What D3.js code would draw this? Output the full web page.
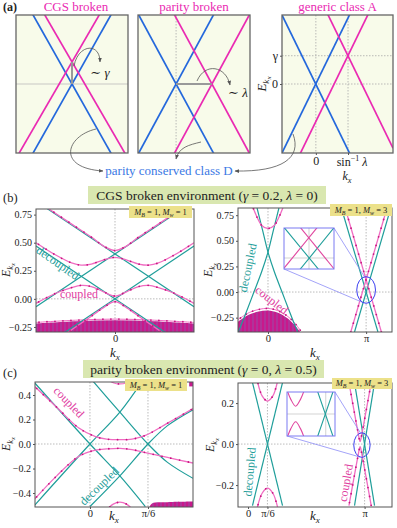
<!DOCTYPE html>
<html>
<head>
<meta charset="utf-8">
<script src="https://cdn.jsdelivr.net/npm/d3@7"></script>
<style>
  body { margin: 0; background: #fff; }
  svg { display: block; }
  svg text { font-family: "Liberation Serif", "DejaVu Serif", serif; }
</style>
</head>
<body>
<svg id="fig" width="397" height="528" font-family="Liberation Serif, DejaVu Serif, serif"></svg>
<script>
// ---------- data ----------
// (a) schematic spectra, kx and E in arbitrary units [-1,1]
const aTitles = ["CGS broken", "parity broken", "generic class A"];
const aCgsBlue = [[[-1, -1.44], [1, 1.44]], [[-1, 1.44], [1, -1.44]]];
const aCgsPink = [[[-1, -1.08], [1, 1.72]], [[-1, 1.72], [1, -1.08]]];
const aCgsGap = [[0, 0], [0, 0.32]];
const aParBlue = [[[-1, -1.02], [1, 1.98]], [[-1, 1.02], [1, -1.98]]];
const aParPink = [[[-1, -1.98], [1, 1.02]], [[-1, 1.98], [1, -1.02]]];
const aParGap = [[-0.32, 0], [0.32, 0]];
const aGenBlue = [[[-1, -1.0], [1, 2.29]], [[-1, 1.0], [1, -2.29]]];
const aGenPink = [[[-1, -1.55], [1, 1.75]], [[-1, 2.37], [1, -0.93]]];
const aGenTicksK = [-0.39, 0.19];
const aGenTicksE = [0, 0.41];

// (b) CGS broken environment
const bLeftTeal = [
  [[-1, 0.87], [1, -0.07]], [[-1, -0.07], [1, 0.87]],
  [[-1, 0.47], [1, -0.47]], [[-1, -0.47], [1, 0.47]]
];
const bLeftPink = [
  [[-0.9, 0.83], [-0.6, 0.69], [-0.3, 0.55], [-0.12, 0.46], [0, 0.43], [0.12, 0.46], [0.3, 0.55], [0.6, 0.69], [0.9, 0.83]],
  [[-1, 0.5], [-0.75, 0.39], [-0.55, 0.32], [-0.43, 0.30], [-0.3, 0.31], [-0.15, 0.345], [0, 0.37], [0.15, 0.345], [0.3, 0.31], [0.43, 0.30], [0.55, 0.32], [0.75, 0.39], [1, 0.5]],
  [[-1, -0.04], [-0.75, 0.05], [-0.55, 0.1], [-0.43, 0.12], [-0.3, 0.11], [-0.15, 0.065], [0, 0.025], [0.15, 0.065], [0.3, 0.11], [0.43, 0.12], [0.55, 0.1], [0.75, 0.05], [1, -0.04]],
  [[-0.6, -0.3], [-0.35, -0.18], [-0.15, -0.08], [0, -0.025], [0.15, -0.08], [0.35, -0.18], [0.6, -0.3]]
];
const bLeftSea = [[-1, -0.22], [-0.5, -0.2], [0, -0.19], [0.5, -0.2], [1, -0.22]];
const bTicksE = [-0.25, 0, 0.25, 0.5, 0.75];

const bRightTeal = [
  [[-0.35, 0.82], [-0.17, 0.6], [0, 0.39], [0.2, 0.2], [0.45, 0], [0.7, -0.2], [0.95, -0.39]],
  [[0.35, 0.82], [0.17, 0.6], [0, 0.39], [-0.2, 0.2], [-0.45, 0], [-0.7, -0.2], [-0.95, -0.39]],
  [[2.35, 0.82], [3.52, -0.39]], [[3.93, 0.82], [2.77, -0.39]]
];
const bRightPink = [
  [[-0.5, 0.84], [-0.35, 0.73], [-0.2, 0.65], [0, 0.62], [0.2, 0.65], [0.35, 0.73], [0.5, 0.84]],
  [[2.47, 0.82], [3.63, -0.39]], [[3.81, 0.82], [2.65, -0.39]]
];
const bRightSea = [[-0.96, -0.29], [-0.6, -0.22], [-0.3, -0.19], [0, -0.18], [0.3, -0.2], [0.6, -0.25], [0.85, -0.32], [1.05, -0.4]];
const bRightTicksK = [0, Math.PI];
const bRightCircle = { k: Math.PI, e: 0.02, rk: 0.30, re: 0.13 };
const bInsetK = [2.965, 3.318];
const bInsetE = [-0.066, 0.18];

// (c) parity broken environment
const cLeftTeal = [
  [[-0.5, -0.5], [0, 0], [0.27, 0.26], [0.47, 0.51]],
  [[-0.5, 0.5], [0, 0], [0.27, -0.26], [0.5, -0.51]],
  [[0.0, -0.51], [0.27, -0.26], [0.5236, 0], [0.7, 0.15], [0.93, 0.28]],
  [[0.03, 0.51], [0.27, 0.26], [0.5236, 0], [0.7, -0.15], [0.93, -0.28]]
];
const cLeftPink = [
  [[-0.5, 0.47], [-0.3, 0.3], [-0.1, 0.13], [0.05, 0.06], [0.15, 0.04], [0.27, 0.035], [0.38, 0.04], [0.5, 0.07], [0.7, 0.17], [0.93, 0.29]],
  [[-0.5, -0.45], [-0.3, -0.26], [-0.1, -0.1], [0.05, -0.05], [0.15, -0.04], [0.27, -0.035], [0.38, -0.045], [0.5, -0.07], [0.7, -0.11], [0.93, -0.155]],
  [[0.16, 0.53], [0.21, 0.5], [0.27, 0.49], [0.33, 0.5], [0.38, 0.53]],
  [[0.16, -0.53], [0.21, -0.49], [0.27, -0.475], [0.33, -0.49], [0.38, -0.53]]
];
const cLeftSeaLow = [[0.53, -0.53], [0.56, -0.485], [0.7, -0.475], [0.93, -0.47]];
const cLeftSeaHigh = [[0.895, 0.47], [0.93, 0.47]];
const cLeftTicksE = [-0.4, -0.2, 0, 0.2, 0.4];
const cLeftTicksK = [0, Math.PI / 6];

const cRightTeal = [
  [[0.12, 0.3], [0.93, -0.3]], [[0.93, 0.3], [0.12, -0.3]],
  [[2.87, 0.3], [3.41, -0.3]], [[3.41, 0.3], [2.87, -0.3]]
];
const cRightPink = [
  [[0.25, 0.31], [0.38, 0.235], [0.5236, 0.21], [0.67, 0.235], [0.8, 0.31]],
  [[0.25, -0.31], [0.38, -0.24], [0.5236, -0.215], [0.67, -0.24], [0.8, -0.31]],
  [[2.72, 0.3], [2.92, 0.1], [2.98, 0.042], [3.0, 0.023], [3.02, 0.012], [3.04, 0.023], [3.06, 0.042], [3.12, 0.1], [3.32, 0.3]],
  [[2.72, -0.3], [2.92, -0.1], [2.98, -0.042], [3.0, -0.023], [3.02, -0.012], [3.04, -0.023], [3.06, -0.042], [3.12, -0.1], [3.32, -0.3]]
];
const cRightTicksE = [-0.2, 0, 0.2];
const cRightTicksK = [0, Math.PI / 6, Math.PI];
const cRightCircle = { k: 3.07, e: -0.005, rk: 0.22, re: 0.06 };
const cInsetK = [2.985, 3.179];
const cInsetE = [-0.034, 0.034];

// ---------- styles ----------
const TEAL = "#1f9e9a", PINK = "#f06cc2", PINKDOT = "#c8157f";
const BLUE = "#2468dc", MAG = "#ea2ab2", GRID = "#aaa";
const SERIF = "Liberation Serif, DejaVu Serif, serif";

const svg = d3.select("#fig");
const defs = svg.append("defs");
let clipN = 0;

const hatch = defs.append("pattern").attr("id", "hatch")
  .attr("patternUnits", "userSpaceOnUse").attr("width", 4).attr("height", 4);
hatch.append("rect").attr("width", 4).attr("height", 4).attr("fill", "#c8198c");
hatch.append("line").attr("x1", 1).attr("x2", 1).attr("y1", 0).attr("y2", 4)
  .attr("stroke", "#9a4aa6").attr("stroke-width", 1);

defs.append("marker").attr("id", "arr").attr("viewBox", "0 0 10 10")
  .attr("refX", 9).attr("refY", 5).attr("markerWidth", 6).attr("markerHeight", 6)
  .attr("orient", "auto-start-reverse")
  .append("path").attr("d", "M0,1 L10,5 L0,9 z").attr("fill", "#555");

// ---------- helpers ----------
function panel(o) {
  const x = d3.scaleLinear().domain(o.kx).range(o.x);
  const y = d3.scaleLinear().domain(o.e).range([o.y[1], o.y[0]]);
  const id = "clip" + (clipN++);
  defs.append("clipPath").attr("id", id).append("rect")
    .attr("x", o.x[0]).attr("y", o.y[0])
    .attr("width", o.x[1] - o.x[0]).attr("height", o.y[1] - o.y[0]);
  svg.append("rect").attr("x", o.x[0]).attr("y", o.y[0])
    .attr("width", o.x[1] - o.x[0]).attr("height", o.y[1] - o.y[0])
    .attr("fill", o.bg || "#fff");
  const g = svg.append("g").attr("clip-path", `url(#${id})`);
  return { x, y, g, o };
}

function frame(p, color, w) {
  svg.append("rect").attr("x", p.o.x[0]).attr("y", p.o.y[0])
    .attr("width", p.o.x[1] - p.o.x[0]).attr("height", p.o.y[1] - p.o.y[0])
    .attr("fill", "none").attr("stroke", color || "#555").attr("stroke-width", w || 1);
}

function gridV(p, k, style) {
  p.g.append("line").attr("x1", p.x(k)).attr("x2", p.x(k))
    .attr("y1", p.o.y[0]).attr("y2", p.o.y[1])
    .attr("stroke", (style && style.c) || GRID).attr("stroke-width", (style && style.w) || 0.8)
    .attr("stroke-dasharray", style && style.solid ? null : "1.5,1.5");
}
function gridH(p, e, style) {
  p.g.append("line").attr("y1", p.y(e)).attr("y2", p.y(e))
    .attr("x1", p.o.x[0]).attr("x2", p.o.x[1])
    .attr("stroke", (style && style.c) || GRID).attr("stroke-width", (style && style.w) || 0.8)
    .attr("stroke-dasharray", style && style.solid ? null : "1.5,1.5");
}

function curve(p, pts, color, w) {
  const gen = d3.line().x(d => p.x(d[0])).y(d => p.y(d[1]))
    .curve(pts.length > 2 ? d3.curveCatmullRom : d3.curveLinear);
  return p.g.append("path").attr("d", gen(pts)).attr("fill", "none")
    .attr("stroke", color).attr("stroke-width", w);
}

function pinkCurve(p, pts, w, step) {
  const path = curve(p, pts, PINK, w || 1.3);
  const node = path.node();
  const len = node.getTotalLength();
  for (let s = 3; s < len; s += (step || 9)) {
    const pt = node.getPointAtLength(s);
    p.g.append("circle").attr("cx", pt.x).attr("cy", pt.y).attr("r", 0.9).attr("fill", PINKDOT);
  }
}

function sea(p, pts, fromTop) {
  const area = d3.area().x(d => p.x(d[0]))
    .y0(fromTop ? p.y(p.o.e[1]) : p.y(p.o.e[0]))
    .y1(d => p.y(d[1])).curve(d3.curveCatmullRom);
  p.g.append("path").attr("d", area(pts)).attr("fill", "url(#hatch)");
}

function styleAxis(g, size) {
  g.select(".domain").remove();
  g.attr("font-family", SERIF).attr("font-size", size || 10.5);
  g.selectAll("text").attr("fill", "#222").style("font-family", SERIF);
  g.selectAll("line").attr("stroke", "#555");
}
function yAxis(p, vals, fmt, size) {
  const ax = d3.axisLeft(p.y).tickValues(vals).tickFormat(fmt).tickSize(2).tickPadding(2);
  const g = svg.append("g").attr("transform", `translate(${p.o.x[0]},0)`).call(ax);
  styleAxis(g, size);
}
function xAxis(p, vals, fmt, size) {
  const ax = d3.axisBottom(p.x).tickValues(vals).tickFormat(fmt).tickSize(2).tickPadding(1);
  const g = svg.append("g").attr("transform", `translate(0,${p.o.y[1]})`).call(ax);
  styleAxis(g, size);
  return g;
}

function eLabel(x, y, size) {
  const t = svg.append("text").attr("transform", `translate(${x},${y}) rotate(-90)`)
    .attr("text-anchor", "middle").attr("font-size", size || 13).attr("fill", "#222");
  t.append("tspan").attr("font-style", "italic").text("E");
  t.append("tspan").attr("font-style", "italic").attr("font-size", (size || 13) * 0.7).attr("dy", 3).text("k");
  t.append("tspan").attr("font-style", "italic").attr("font-size", (size || 13) * 0.55).attr("dy", 2).text("x");
}
function kLabel(x, y, size) {
  const t = svg.append("text").attr("x", x).attr("y", y)
    .attr("text-anchor", "middle").attr("font-size", size || 13).attr("fill", "#222");
  t.append("tspan").attr("font-style", "italic").text("k");
  t.append("tspan").attr("font-style", "italic").attr("font-size", (size || 13) * 0.7).attr("dy", 3).text("x");
}

function mBox(x0, y0, x1, y1, w) {
  svg.append("rect").attr("x", x0).attr("y", y0).attr("width", x1 - x0).attr("height", y1 - y0)
    .attr("fill", "#ece18a");
  const t = svg.append("text").attr("x", (x0 + x1) / 2).attr("y", y1 - 3)
    .attr("text-anchor", "middle").attr("font-size", 8.5).attr("fill", "#222");
  t.append("tspan").attr("font-style", "italic").text("M");
  t.append("tspan").attr("font-style", "italic").attr("font-size", 6).attr("dy", 1.5).text("B");
  t.append("tspan").attr("dy", -1.5).text(" = 1, ");
  t.append("tspan").attr("font-style", "italic").text("M");
  t.append("tspan").attr("font-style", "italic").attr("font-size", 6).attr("dy", 1.5).text("w");
  t.append("tspan").attr("dy", -1.5).text(" = " + w);
}

function titleBox(x0, y0, x1, y1, name, g, l) {
  svg.append("rect").attr("x", x0).attr("y", y0).attr("width", x1 - x0).attr("height", y1 - y0)
    .attr("fill", "#d9e7b0");
  const t = svg.append("text").attr("x", (x0 + x1) / 2).attr("y", y1 - 4.5)
    .attr("text-anchor", "middle").attr("font-size", 13.5).attr("fill", "#222");
  t.append("tspan").text(name + " environment (");
  t.append("tspan").attr("font-style", "italic").text("γ");
  t.append("tspan").text(" = " + g + ", ");
  t.append("tspan").attr("font-style", "italic").text("λ");
  t.append("tspan").text(" = " + l + ")");
}

function note(x, y, rot, txt, color, size) {
  svg.append("text").attr("transform", `translate(${x},${y}) rotate(${rot})`)
    .attr("text-anchor", "middle").attr("dominant-baseline", "middle")
    .attr("font-size", size || 11).attr("fill", color).text(txt);
}

function zoomInset(p, circ, box, kDom, eDom, teal, pink) {
  const cx = p.x(circ.k), cy = p.y(circ.e);
  const rx = Math.abs(p.x(circ.k + circ.rk) - cx), ry = Math.abs(p.y(circ.e + circ.re) - cy);
  const a1 = -100 * Math.PI / 180, a2 = 105 * Math.PI / 180;
  svg.append("line").attr("x1", box[2]).attr("y1", box[1])
    .attr("x2", cx + rx * Math.cos(a1)).attr("y2", cy + ry * Math.sin(a1))
    .attr("stroke", "#8c8cf6").attr("stroke-width", 0.8);
  svg.append("line").attr("x1", box[0]).attr("y1", box[3])
    .attr("x2", cx + rx * Math.cos(a2)).attr("y2", cy + ry * Math.sin(a2))
    .attr("stroke", "#8c8cf6").attr("stroke-width", 0.8);
  svg.append("ellipse").attr("cx", cx).attr("cy", cy).attr("rx", rx).attr("ry", ry)
    .attr("fill", "none").attr("stroke", "#3a3ef0").attr("stroke-width", 1);
  const q = panel({ x: [box[0], box[2]], y: [box[1], box[3]], kx: kDom, e: eDom });
  gridV(q, Math.PI, { solid: true, c: "#c8c8c8", w: 0.8 });
  gridH(q, 0, { solid: true, c: "#c8c8c8", w: 0.8 });
  teal.forEach(l => curve(q, l, TEAL, 1.1));
  pink.forEach(l => curve(q, l, "#e0459f", 1.1));
  frame(q, "#7a7af2", 1);
}

// ---------- (a) ----------
svg.append("text").attr("x", 3).attr("y", 11).attr("font-size", 12).attr("font-weight", "bold")
  .attr("fill", "#222").text("(a)");
const aFrames = [[16, 128], [138, 250], [282, 393]];
const aPanels = aFrames.map((fx, i) => {
  const p = panel({ x: fx, y: [15, 153], kx: [-1, 1], e: [-1, 1], bg: "#f8fbea" });
  svg.append("text").attr("x", i === 0 ? 76 : (fx[0] + fx[1]) / 2).attr("y", 10.5)
    .attr("text-anchor", "middle").attr("font-size", 13).attr("fill", MAG).text(aTitles[i]);
  return p;
});
// CGS broken
gridH(aPanels[0], 0, { solid: true, c: "#bbb", w: 0.8 });
aCgsBlue.forEach(l => curve(aPanels[0], l, BLUE, 1.7));
aCgsPink.forEach(l => curve(aPanels[0], l, MAG, 1.7));
curve(aPanels[0], aCgsGap, "#999", 2);
// parity broken
gridV(aPanels[1], aParGap[0][0]);
aParBlue.forEach(l => curve(aPanels[1], l, BLUE, 1.7));
aParPink.forEach(l => curve(aPanels[1], l, MAG, 1.7));
curve(aPanels[1], aParGap, "#999", 2);
// generic class A
aGenTicksK.forEach(k => gridV(aPanels[2], k));
aGenTicksE.forEach(e => gridH(aPanels[2], e));
aGenBlue.forEach(l => curve(aPanels[2], l, BLUE, 1.7));
aGenPink.forEach(l => curve(aPanels[2], l, MAG, 1.7));
aPanels.forEach(p => frame(p, "#666", 1.3));
yAxis(aPanels[2], aGenTicksE, (d, i) => ["0", "γ"][i], 12);
xAxis(aPanels[2], aGenTicksK, (d, i) => ["0", ""][i], 12);
{
  const t = svg.append("text").attr("x", aPanels[2].x(aGenTicksK[1]) + 4).attr("y", 166)
    .attr("text-anchor", "middle").attr("font-size", 12).attr("fill", "#222");
  t.append("tspan").text("sin");
  t.append("tspan").attr("font-size", 8).attr("dy", -5).text("−1");
  t.append("tspan").attr("dy", 5).attr("font-style", "italic").text(" λ");
}
eLabel(266, 84, 13);
kLabel(347, 180, 12);

// annotations in (a)
const ann = svg.append("g").attr("fill", "none").attr("stroke", "#555").attr("stroke-width", 0.8);
ann.append("path").attr("d", "M74,66 C78,44 100,42 100,62").attr("marker-end", "url(#arr)");
ann.append("path").attr("d", "M197,81 C205,62 226,66 230,85").attr("marker-end", "url(#arr)");
ann.append("path").attr("d", "M96,129 C66,136 56,168 103,171").attr("marker-end", "url(#arr)");
ann.append("path").attr("d", "M201,142 C189,145 179,147 176,159").attr("marker-end", "url(#arr)");
ann.append("path").attr("d", "M293,134 C302,158 282,172 235,171").attr("marker-end", "url(#arr)");
{
  const t1 = svg.append("text").attr("x", 100).attr("y", 77).attr("text-anchor", "middle")
    .attr("font-size", 13).attr("fill", "#222");
  t1.append("tspan").text("∼ ");
  t1.append("tspan").attr("font-style", "italic").text("γ");
  const t2 = svg.append("text").attr("x", 238).attr("y", 97).attr("text-anchor", "middle")
    .attr("font-size", 13).attr("fill", "#222");
  t2.append("tspan").text("∼ ");
  t2.append("tspan").attr("font-style", "italic").text("λ");
}
svg.append("text").attr("x", 169).attr("y", 175).attr("text-anchor", "middle")
  .attr("font-size", 13).attr("fill", "#3a78e4").text("parity conserved class D");

// ---------- (b) ----------
svg.append("text").attr("x", 3).attr("y", 202).attr("font-size", 12.5).attr("fill", "#222").text("(b)");
titleBox(88, 186, 326, 204, "CGS broken", "0.2", "0");

const bL = panel({ x: [36, 194], y: [209, 332], kx: [-1, 1], e: [-0.295, 0.80] });
gridV(bL, 0); gridH(bL, 0);
sea(bL, bLeftSea);
pinkCurve(bL, bLeftSea.map(d => [d[0], d[1] + 0.01]), 1, 8);
bLeftTeal.forEach(l => curve(bL, l, TEAL, 1.2));
bLeftPink.forEach(l => pinkCurve(bL, l));
frame(bL);
yAxis(bL, bTicksE, d3.format(".2f"), 10);
xAxis(bL, [0], () => "0");
eLabel(10, 270, 12); kLabel(115, 357);
mBox(129, 206, 192, 218, 1);
note(57, 264, 35, "decoupled", TEAL, 12);
note(79, 295, 0, "coupled", "#e0409f", 12);

const bR = panel({ x: [238, 392], y: [208, 332], kx: [-0.96, 3.97], e: [-0.39, 0.82] });
bRightTicksK.forEach(k => gridV(bR, k)); gridH(bR, 0);
sea(bR, bRightSea);
pinkCurve(bR, bRightSea.map(d => [d[0], d[1] + 0.02]), 1, 7);
bRightTeal.forEach(l => curve(bR, l, TEAL, 1.2));
bRightPink.forEach(l => pinkCurve(bR, l));
frame(bR);
yAxis(bR, bTicksE, d3.format(".2f"), 10);
xAxis(bR, bRightTicksK, (d, i) => ["0", "π"][i]);
eLabel(212, 270, 12); kLabel(315, 357);
zoomInset(bR, bRightCircle, [284, 228, 334, 269], bInsetK, bInsetE,
  bRightTeal.slice(2), bRightPink.slice(1));
mBox(330, 204, 392, 216, 3);
note(249, 268, -78, "decoupled", TEAL, 12);
note(271, 301, 38, "coupled", "#e0409f", 12);

// ---------- (c) ----------
svg.append("text").attr("x", 3).attr("y", 377).attr("font-size", 12.5).attr("fill", "#222").text("(c)");
titleBox(83, 360, 324, 378, "parity broken", "0", "0.5");

const cL = panel({ x: [35, 193], y: [382, 507], kx: [-0.496, 0.93], e: [-0.514, 0.506] });
cLeftTicksK.forEach(k => gridV(cL, k)); gridH(cL, 0);
sea(cL, cLeftSeaLow);
sea(cL, cLeftSeaHigh, true);
cLeftTeal.forEach(l => curve(cL, l, TEAL, 1.2));
cLeftPink.forEach(l => pinkCurve(cL, l));
frame(cL);
yAxis(cL, cLeftTicksE, d3.format(".1f"), 10);
xAxis(cL, cLeftTicksK, (d, i) => ["0", "π/6"][i]);
eLabel(10, 444, 12); kLabel(114, 520);
mBox(125, 379, 187, 391, 1);
note(68, 403, 46, "coupled", "#e0409f", 12);
note(100, 487, -44, "decoupled", TEAL, 12);

const cR = panel({ x: [238, 392], y: [383, 507], kx: [-0.27, 3.88], e: [-0.307, 0.298] });
cRightTicksK.slice(1).forEach(k => gridV(cR, k)); gridH(cR, 0);
cRightTeal.forEach(l => curve(cR, l, TEAL, 1.2));
cRightPink.forEach(l => pinkCurve(cR, l));
frame(cR);
yAxis(cR, cRightTicksE, d3.format(".1f"), 10);
xAxis(cR, cRightTicksK, (d, i) => ["0", "π/6", "π"][i]);
eLabel(214, 445, 12); kLabel(315, 520);
zoomInset(cR, cRightCircle, [287, 392, 335, 436], cInsetK, cInsetE,
  cRightTeal.slice(2), cRightPink.slice(2));
mBox(332, 378, 392, 389, 3);
note(251, 472, -85, "decoupled", TEAL, 12);
note(347, 483, -80, "coupled", "#e0409f", 12);
</script>
</body>
</html>
